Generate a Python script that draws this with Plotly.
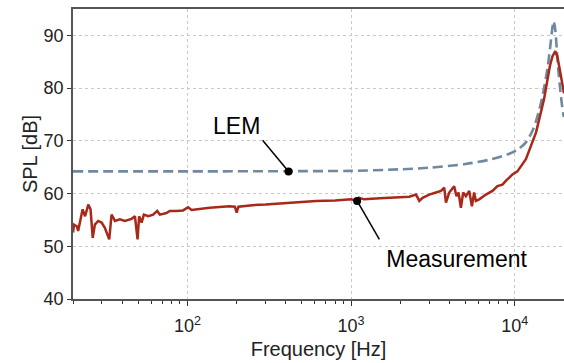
import plotly.graph_objects as go
import math

# ---- data ----
meas_freq = [20, 20.3, 21.1, 21.5, 22.9, 23.7, 24.8, 25.6, 26.4, 27.2, 28.5, 29.9, 31.3, 33.3, 34.4,
             36.1, 38.7, 41.5, 45.6, 47.8, 49.6, 50.7, 52.5, 54.2, 57.6, 61.8, 65.4, 67.9, 74.5, 78.0,
             85.7, 94.0, 101, 106, 137, 160, 180, 195, 200, 205, 250, 300, 400, 500, 612, 800, 1000,
             1060, 1089, 1120, 1200, 1500, 1700, 1972, 2270, 2494, 2612, 2736, 3006, 3302, 3541, 3709,
             3800, 3981, 4131, 4266, 4406, 4536, 4689, 4843, 5031, 5272, 5475, 5649, 5789, 6067, 6668,
             7311, 7839, 8414, 8817, 9683, 10380, 11700, 13500, 15100, 16400, 17000, 17700, 18200,
             18700, 19300, 19700, 20000]
meas_spl = [52.6, 54.1, 53.8, 52.9, 57.0, 55.7, 57.9, 57.0, 51.6, 54.1, 54.8, 54.5, 53.5, 51.3, 56.0,
            54.8, 55.1, 54.8, 55.2, 55.7, 51.3, 55.7, 54.5, 56.0, 55.7, 56.0, 56.7, 56.0, 56.3, 56.7,
            56.7, 56.8, 57.4, 56.9, 57.3, 57.4, 57.6, 57.5, 56.4, 57.5, 57.8, 57.9, 58.2, 58.4, 58.6,
            58.7, 58.9, 58.7, 58.6, 59.2, 58.9, 59.1, 59.2, 59.2, 59.4, 59.8, 58.6, 59.2, 59.8, 60.2,
            60.5, 61.1, 58.3, 60.2, 60.8, 61.4, 59.5, 60.2, 57.3, 60.2, 59.5, 60.5, 57.6, 60.2, 58.6,
            58.9, 59.8, 60.5, 61.4, 61.7, 62.4, 63.6, 64.2, 66.5, 71.6, 77.9, 84.2, 86.0, 87.0, 86.0,
            84.1, 81.5, 79.8, 79.0]

lem_freq = [20, 100, 500, 1000, 2000, 3000, 5000, 7200, 9000, 10500, 11700, 13000, 14100, 15000, 15900,
            16500, 17000, 17300, 17700, 18100, 18400, 19000, 19700, 20000]
lem_spl = [64.2, 64.2, 64.25, 64.3, 64.6, 64.9, 65.6, 66.5, 67.4, 68.4, 69.7, 72.3, 75.8, 79.5, 84.0,
           88.0, 91.5, 92.7, 91.0, 87.0, 84.0, 79.5, 75.4, 74.5]

# annotation anchors: label text position, line start (tail), dot on curve
labels = ["LEM", "Measurement"]
label_freq = [200, 4416]
label_spl = [72.3, 47.2]
tail_freq = [288, 1489]
tail_spl = [70.1, 51.3]
dot_freq = [415, 1089]
dot_spl = [64.2, 58.6]

x_range_hz = [20, 20000]
y_range = [40, 95]
y_ticks = [40, 50, 60, 70, 80, 90]
x_ticks = [100, 1000, 10000]
x_ticktext = ["10<sup>2</sup>", "10<sup>3</sup>", "10<sup>4</sup>"]
x_minor = [m * 10 ** d for d in (1, 2, 3) for m in range(2, 10) if 20 <= m * 10 ** d <= 20000]

assert len(meas_freq) == len(meas_spl)
assert len(lem_freq) == len(lem_spl)

RED = "#a8281a"
STEEL = "#7088a0"
FONT = "Liberation Sans, Arial, sans-serif"

fig = go.Figure()
fig.add_trace(go.Scatter(x=lem_freq, y=lem_spl, mode="lines",
                         line=dict(color=STEEL, width=2.6, dash="10px,5px", shape="spline", smoothing=0.8),
                         showlegend=False, hoverinfo="skip"))
fig.add_trace(go.Scatter(x=meas_freq, y=meas_spl, mode="lines", line=dict(color=RED, width=2.5),
                         showlegend=False, hoverinfo="skip"))
for i in range(len(labels)):
    fig.add_trace(go.Scatter(x=[tail_freq[i], dot_freq[i]], y=[tail_spl[i], dot_spl[i]], mode="lines",
                             line=dict(color="black", width=1.5), showlegend=False, hoverinfo="skip"))
fig.add_trace(go.Scatter(x=dot_freq, y=dot_spl, mode="markers", marker=dict(color="black", size=8),
                         showlegend=False, hoverinfo="skip"))
fig.add_trace(go.Scatter(x=label_freq, y=label_spl, mode="text", text=labels,
                         textfont=dict(family=FONT, size=23, color="black"), textposition="middle center",
                         showlegend=False, hoverinfo="skip"))

fig.update_layout(
    width=564, height=363,
    margin=dict(l=73, r=0, t=9, b=64),
    paper_bgcolor="white", plot_bgcolor="white",
    font=dict(family=FONT, size=18, color="#222"),
    showlegend=False,
)
fig.update_xaxes(
    type="log", range=[math.log10(x_range_hz[0]), math.log10(x_range_hz[1])],
    tickmode="array", tickvals=x_ticks, ticktext=x_ticktext,
    ticks="outside", ticklen=5, tickwidth=1, tickcolor="#333", ticklabelstandoff=5,
    showline=True, linecolor="#555", linewidth=1.5, mirror=True,
    showgrid=True, gridcolor="#c8c8c8", griddash="dot", gridwidth=1,
    minor=dict(tickmode="array", tickvals=x_minor, ticks="outside", ticklen=3, tickcolor="#333", showgrid=False),
    title=dict(text="Frequency [Hz]", font=dict(size=20), standoff=7),
    zeroline=False, automargin=False,
)
fig.update_yaxes(
    range=y_range, tickmode="array", tickvals=y_ticks,
    ticks="outside", ticklen=4, tickwidth=1, tickcolor="#333",
    showline=True, linecolor="#555", linewidth=1.5, mirror=False,
    showgrid=True, gridcolor="#c8c8c8", griddash="dot", gridwidth=1,
    title=dict(text="SPL [dB]", font=dict(size=20), standoff=1),
    zeroline=False, automargin=False,
)

fig.write_html("out.html", config={"displayModeBar": False},
               post_script="document.body.style.margin='0';document.body.style.overflow='hidden';")
